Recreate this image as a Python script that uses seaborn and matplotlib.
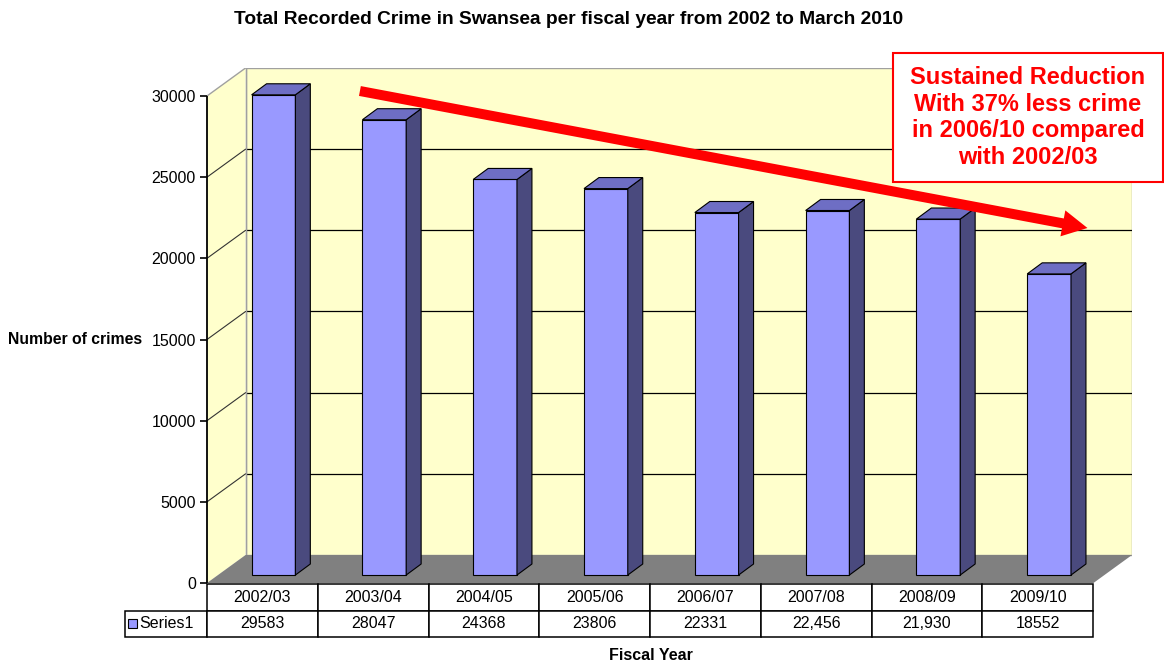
import matplotlib
matplotlib.use("Agg")
import matplotlib.pyplot as plt
from matplotlib.patches import Polygon, Rectangle
import seaborn as sns

# ---- data -------------------------------------------------------------
categories = ["2002/03", "2003/04", "2004/05", "2005/06",
              "2006/07", "2007/08", "2008/09", "2009/10"]
crimes = [29583, 28047, 24368, 23806, 22331, 22456, 21930, 18552]
crime_labels = ["29583", "28047", "24368", "23806", "22331",
                "22,456", "21,930", "18552"]
y_ticks = [0, 5000, 10000, 15000, 20000, 25000, 30000]
series_name = "Series1"
title = "Total Recorded Crime in Swansea per fiscal year from 2002 to March 2010"
note = "Sustained Reduction\nWith 37% less crime\nin 2006/10 compared\nwith 2002/03"

# ---- style ------------------------------------------------------------
sns.set_style("white")
plt.rcParams["font.family"] = ["Liberation Sans", "DejaVu Sans"]
plt.rcParams["text.color"] = "black"
plt.rcParams["ytick.color"] = "black"
plt.rcParams["xtick.color"] = "black"

BAR_FRONT = "#9999FF"
BAR_TOP = "#6E6EC4"
BAR_SIDE = "#4A4A7E"
WALL = "#FFFFCC"
FLOOR = "#808080"
WALL_EDGE = "#A0A0A0"

# pseudo-3D depth of the plot box (x in category units, y in value units)
DX, DY = 0.348, 1725
# bar position inside the depth and its own depth
OFF_X, OFF_Y = 0.10, 490
BAR_DX, BAR_DY = 0.135, 680

W, H = 1164, 664
fig = plt.figure(figsize=(W / 100, H / 100), dpi=100)
ax = fig.add_axes([207 / W, (H - 583) / H, 925 / W, 515 / H])

n = len(categories)
top = y_ticks[-1]
left, right = -0.5, n - 0.5

# back wall with its gridlines
ax.add_patch(Rectangle((left + DX, DY), n, top,
                       fc=WALL, ec=WALL_EDGE, lw=1, zorder=0))
for v in y_ticks[1:-1]:
    ax.plot([left + DX, right + DX], [v + DY, v + DY],
            color="black", lw=0.9, zorder=0.5)

# side wall with diagonal gridlines
ax.add_patch(Polygon([(left, 0), (left, top), (left + DX, top + DY),
                      (left + DX, DY)], closed=True,
                     fc=WALL, ec="none", zorder=0.6))
ax.plot([left, left + DX], [top, top + DY], color=WALL_EDGE, lw=1, zorder=0.7)
ax.plot([left + DX, left + DX], [DY, top + DY], color=WALL_EDGE, lw=1,
        zorder=0.7)
for v in y_ticks[1:-1]:
    ax.plot([left, left + DX], [v, v + DY], color="#333333", lw=0.8,
            zorder=0.7)

# floor
ax.add_patch(Polygon([(left, 0), (right, 0), (right + DX, DY), (left + DX, DY)],
                     closed=True, fc=FLOOR, ec="none", zorder=1))

# bars: seaborn draws the front faces, sides and tops are extruded from them
sns.barplot(x=categories, y=crimes, color=BAR_FRONT, saturation=1,
            width=0.395, edgecolor="black", linewidth=0.8, ax=ax, zorder=3)
for p in ax.containers[0]:
    p.set_x(p.get_x() + OFF_X)
    p.set_y(p.get_y() + OFF_Y)
    x0, w = p.get_x(), p.get_width()
    b, t = p.get_y(), p.get_y() + p.get_height()
    x1 = x0 + w
    ax.add_patch(Polygon([(x1, b), (x1 + BAR_DX, b + BAR_DY),
                          (x1 + BAR_DX, t + BAR_DY), (x1, t)], closed=True,
                         fc=BAR_SIDE, ec="black", lw=0.8, zorder=3))
    ax.add_patch(Polygon([(x0, t), (x1, t), (x1 + BAR_DX, t + BAR_DY),
                          (x0 + BAR_DX, t + BAR_DY)], closed=True,
                         fc=BAR_TOP, ec="black", lw=0.8, zorder=3))

# axes
ax.set_xlim(left, right + DX)
ax.set_ylim(0, top + DY)
ax.set_yticks(y_ticks)
ax.set_yticklabels([str(v) for v in y_ticks])
ax.set_xticks([])
ax.set_xlabel("")
ax.set_ylabel("")
for s in ["top", "right", "bottom", "left"]:
    ax.spines[s].set_visible(False)
# front value axis line
ax.plot([left, left], [0, top], color="black", lw=1.3, zorder=2,
        clip_on=False, solid_capstyle="butt")
ax.tick_params(axis="y", length=5, width=1.2, color="black", labelsize=11.5,
               pad=3, left=True, labelcolor="black")
ax.patch.set_visible(False)

# trend arrow
ax.annotate("", xy=(7.446, 21869), xytext=(0.88, 30308),
            arrowprops=dict(arrowstyle="simple,head_length=0.9,head_width=0.95,tail_width=0.36",
                            fc="#FF0000", ec="none", mutation_scale=20,
                            shrinkA=0, shrinkB=0),
            zorder=6, annotation_clip=False)

# data table under the plot
tbl = ax.table(cellText=[[""] + categories, [series_name] + crime_labels],
               colWidths=[82 / 110.75] + [1] * n,
               cellLoc="center",
               bbox=[-82 / 925, -54 / 515, 968 / 925, 53 / 515])
tbl.auto_set_font_size(False)
tbl.set_fontsize(11.5)
for (r, c), cell in tbl.get_celld().items():
    cell.set_edgecolor("black")
    cell.set_linewidth(1.1)
    cell.get_text().set_color("black")
tbl[0, 0].visible_edges = "open"
tbl[1, 0]._loc = "right"
ax.add_patch(Rectangle((-79 / 925, -45 / 515), 9 / 925, 9 / 515,
                       transform=ax.transAxes, fc=BAR_FRONT, ec="black",
                       lw=0.8, clip_on=False, zorder=7))

# texts
fig.text(569 / W, 1 - 20 / H, title, ha="center", va="center",
         fontsize=13.8, fontweight="bold")
fig.text(8 / W, 1 - 340 / H, "Number of crimes", ha="left", va="center",
         fontsize=11.3, fontweight="bold")
fig.text(651 / W, 1 - 655 / H, "Fiscal Year", ha="center", va="center",
         fontsize=11.5, fontweight="bold")

fig.add_artist(Rectangle((893 / W, 1 - 182 / H), 270 / W, 129 / H,
                         transform=fig.transFigure, fc="white",
                         ec="#FF0000", lw=1.5, zorder=5))
fig.text(1028 / W, 1 - 117.5 / H, note, ha="center", va="center",
         fontsize=17, fontweight="bold", color="#FF0000", linespacing=1.2,
         zorder=6)

fig.savefig("out.png", dpi=100)
